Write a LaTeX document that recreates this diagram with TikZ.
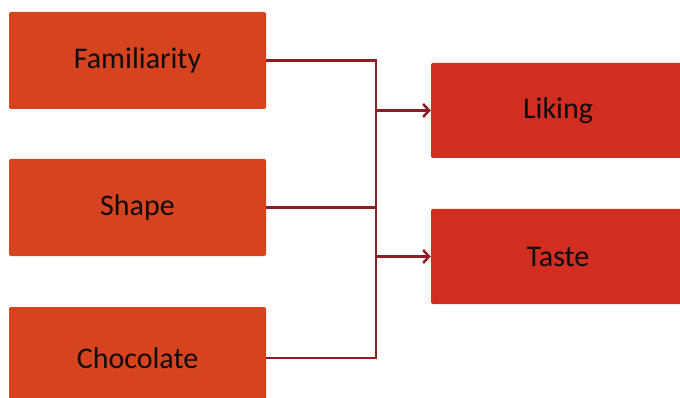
\documentclass[tikz,border=0pt]{standalone}
\usepackage{fontspec}
\setmainfont{Carlito}
\usetikzlibrary{calc}
\usetikzlibrary{arrows.meta}
\definecolor{leftred}{HTML}{D6441F}
\definecolor{rightred}{HTML}{D12D20}
\definecolor{wirered}{HTML}{8C1D22}

\begin{document}
\begin{tikzpicture}[x=1pt,y=-1pt,factor/.style={rectangle,draw=none,fill=leftred,rounded corners=2pt,minimum width=257pt,minimum height=97pt,font=\fontsize{30}{36}\selectfont,text=black!95},outcome/.style={factor,fill=rightred,minimum width=254pt,minimum height=95pt},wire/.style={draw=wirered,line width=2.5pt},arrow/.style={-{Straight Barb[length=6pt,width=13pt]}}]
  \useasboundingbox (0,0) rectangle (680,398);
  \clip (0,0) rectangle (680,398);
  \node[factor] (familiarity) at (137.5,60.5) {Familiarity};
  \node[factor] (shape) at (137.5,207.5) {Shape};
  \node[factor,minimum height=102pt] (chocolate) at (137.5,358) {Chocolate};
  \node[outcome] (liking) at (558,110.5) {Liking};
  \node[outcome] (taste) at (558,256.5) {Taste};
  \coordinate (bus) at (376,0);
  \path[wire] (familiarity.east) -- (familiarity.east -| bus) -- (chocolate.east -| bus) -- (chocolate.east);
  \path[wire] (shape.east) -- (shape.east -| bus);
  \path[wire,arrow] (liking.west -| bus) -- (liking.west);
  \path[wire,arrow] (taste.west -| bus) -- (taste.west);
\end{tikzpicture}
\end{document}
